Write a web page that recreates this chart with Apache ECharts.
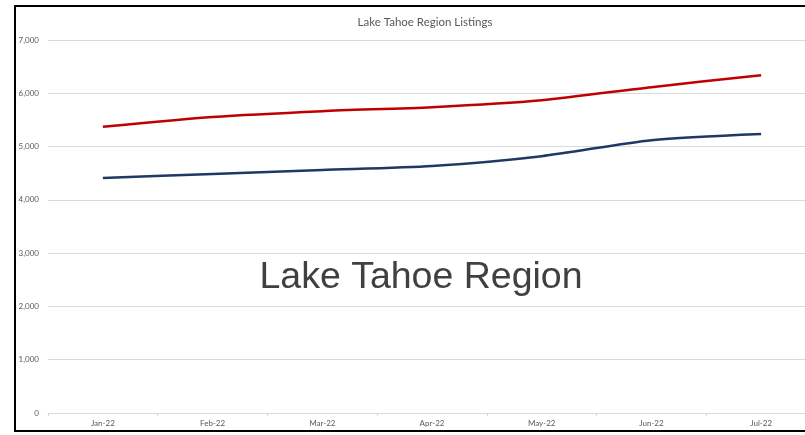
<!DOCTYPE html>
<html>
<head>
<meta charset="utf-8">
<script src="https://cdn.jsdelivr.net/npm/echarts@6/dist/echarts.min.js"></script>
<style>
  html, body { margin: 0; padding: 0; background: #fff; overflow: hidden; }
  /* the original picture is cropped on the right, so the chart is drawn wider */
  #chart { width: 830px; height: 435px; }
</style>
</head>
<body>
<div id="chart"></div>
<script>
// months shown on the x axis
var months = ['Jan-22', 'Feb-22', 'Mar-22', 'Apr-22', 'May-22', 'Jun-22', 'Jul-22'];
// red line (upper)
var redSeries = [5370, 5555, 5665, 5740, 5870, 6115, 6340];
// blue line (lower)
var blueSeries = [4410, 4485, 4560, 4635, 4820, 5120, 5235];

var myChart = echarts.init(document.getElementById('chart'));
myChart.setOption({
  animation: false,
  title: {
    text: 'Lake Tahoe Region Listings',
    left: 420,
    textAlign: 'center',
    top: 11,
    textStyle: {
      fontFamily: 'Lato',
      fontSize: 11.5,
      fontWeight: 'normal',
      color: '#595959'
    }
  },
  grid: {
    left: 48,
    width: 768,
    top: 40,
    bottom: 22
  },
  xAxis: {
    type: 'category',
    boundaryGap: true,
    data: months,
    axisLine: { lineStyle: { color: '#d9d9d9', width: 1 } },
    axisTick: { show: true, length: 3, lineStyle: { color: '#d9d9d9' } },
    axisLabel: {
      fontFamily: 'Lato',
      fontSize: 8,
      color: '#595959',
      margin: 6
    }
  },
  yAxis: {
    type: 'value',
    min: 0,
    max: 7000,
    interval: 1000,
    axisLine: { show: false },
    axisTick: { show: false },
    splitLine: { lineStyle: { color: '#d9d9d9', width: 1 } },
    axisLabel: {
      fontFamily: 'Lato',
      fontSize: 8,
      color: '#595959',
      margin: 9,
      formatter: function (v) { return v.toLocaleString('en-US'); }
    }
  },
  graphic: [
    {
      type: 'rect',
      shape: { x: 15, y: 6, width: 840, height: 425 },
      style: { fill: null, stroke: '#000', lineWidth: 2 },
      z: 100
    },
    {
      type: 'text',
      x: 421,
      y: 278,
      style: {
        text: 'Lake Tahoe Region',
        fontFamily: 'Liberation Sans',
        fontSize: 37.5,
        fill: '#404040',
        textAlign: 'center',
        textVerticalAlign: 'middle'
      },
      z: 100
    }
  ],
  series: [
    {
      name: 'Red',
      type: 'line',
      data: redSeries,
      smooth: 0.25,
      showSymbol: false,
      lineStyle: { color: '#C00000', width: 2.5 },
      itemStyle: { color: '#C00000' }
    },
    {
      name: 'Blue',
      type: 'line',
      data: blueSeries,
      smooth: 0.25,
      showSymbol: false,
      lineStyle: { color: '#1F3864', width: 2.5 },
      itemStyle: { color: '#1F3864' }
    }
  ]
});
window.addEventListener('resize', function () {
  myChart.resize();
});
</script>
</body>
</html>
